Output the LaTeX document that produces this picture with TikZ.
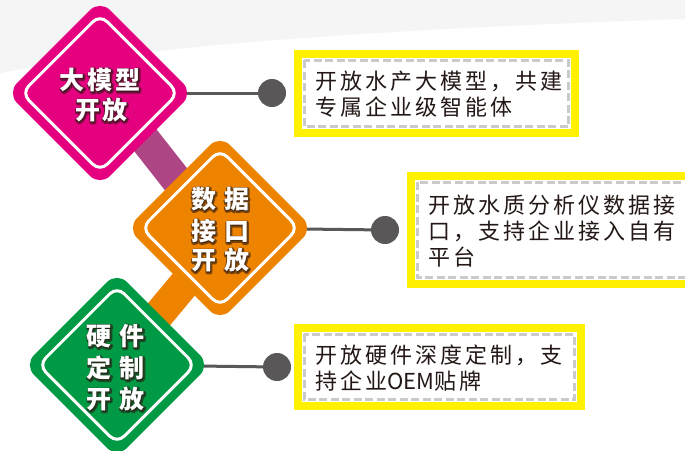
\documentclass[tikz,border=0pt]{standalone}
\usepackage{fontspec}
\setmainfont{Noto Sans CJK SC}
\newfontfamily\boxfont[LetterSpace=14]{Noto Sans CJK SC}
\newfontfamily\plainfont{Noto Sans CJK SC}
\newfontfamily\dfont[LetterSpace=12]{Noto Sans CJK SC}
\usetikzlibrary{shapes.geometric,backgrounds,calc}
\definecolor{mag}{HTML}{E4007F}
\definecolor{purp}{HTML}{AE4585}
\definecolor{org}{HTML}{EE8300}
\definecolor{grn}{HTML}{009944}
\definecolor{yel}{HTML}{FFF100}
\definecolor{dgray}{HTML}{595757}
\definecolor{dashgray}{HTML}{C9CACA}
\definecolor{txt}{HTML}{231815}
\definecolor{shade}{HTML}{2A1A12}
\definecolor{swoosh}{HTML}{F5F5F5}
\tikzset{
  diam/.style={shape=diamond, minimum width=186, minimum height=186, inner sep=0, rounded corners=14},
  idiam/.style={shape=diamond, minimum width=158, minimum height=158, inner sep=0, draw=white, line width=3, rounded corners=10},
  bar/.style={line width=31},
  conn/.style={draw=dgray, line width=3},
  dot/.style={circle, fill=dgray, minimum size=28, inner sep=0},
  dfnt/.style={inner sep=0, font=\dfont\bfseries\fontsize{25}{25}\selectfont},
  glow/.style={dfnt, text=shade, opacity=0.6},
  dtxt/.style={dfnt, text=white},
  ybox/.style={fill=yel, inner sep=0},
  dashbox/.style={draw=dashgray, line width=3, dash pattern=on 8 off 3.5},
  btxt/.style={text=txt, inner sep=0, align=left, anchor=west, font=\boxfont\fontsize{22}{26}\selectfont},
}
\newcommand\glowtxt[3]{%
  \node[glow] at ($(#2)+(0.6,0.8)$) {\special{pdf:literal direct 2 Tr 3.2 w 1 j}#3\special{pdf:literal direct 0 Tr}};
  \node[dtxt] (#1) at (#2) {#3};}
\newcommand\yellowbox[4]{%
  \node[ybox, minimum width=#3, minimum height=#4] (#1) at (#2) {};
  \fill[white] ([shift={(8,8)}]#1.north west) rectangle ([shift={(-8,-8)}]#1.south east);
  \draw[dashbox] ([shift={(10.5,10.5)}]#1.north west) rectangle ([shift={(-10.5,-10.5)}]#1.south east);}
\begin{document}
\begin{tikzpicture}[x=1pt,y=-1pt]
\useasboundingbox (0,0) rectangle (685,450);
% diamonds
\node[diam, fill=mag] (d1) at (100,93) {};
\node[idiam] (d1i) at (100,93) {};
\node[diam, fill=org] (d2) at (220,228) {};
\node[idiam] (d2i) at (220,228) {};
\node[diam, fill=grn] (d3) at (117,365) {};
\node[idiam] (d3i) at (117,365) {};
% dots
\node[dot] (p1) at (272,93) {};
\node[dot] (p2) at (385,230) {};
\node[dot] (p3) at (277,367) {};
% boxes
\yellowbox{b1}{436.5,93.5}{285}{87}
\yellowbox{b2}{553.5,230}{293}{116}
\yellowbox{b3}{439.5,367}{291}{86}
\node[btxt] (t1) at (315,94.5) {开放水产大模型，共建\\专属企业级智能体};
\node[btxt] (t2) at (428,231) {开放水质分析仪数据接\\口，支持企业接入自有\\平台};
\node[btxt] (t3) at (315,368) {开放硬件深度定制，支\\持企业{\plainfont OEM}贴牌};
% diamond texts
\glowtxt{l1a}{100,80}{大模型}
\glowtxt{l1b}{101,110}{开\hspace{2pt}放}
\glowtxt{l2a}{220,199}{数\hspace{8pt}据}
\glowtxt{l2b}{220,231}{接\hspace{8pt}口}
\glowtxt{l2c}{220,260}{开\hspace{8pt}放}
\glowtxt{l3a}{115.5,336}{硬\hspace{8pt}件}
\glowtxt{l3b}{115.5,368}{定\hspace{8pt}制}
\glowtxt{l3c}{115.5,399}{开\hspace{8pt}放}
\begin{pgfonlayer}{background}
\fill[white] (0,0) rectangle (685,450);
\fill[swoosh] (0,0) -- (0,73) .. controls (150,45) and (400,28) .. (685,19) -- (685,0) -- cycle;
\draw[bar, purp] ([shift={(9,1)}]d1.center) -- ([shift={(-12,-8)}]d2.center);
\draw[bar, org] ([shift={(-4,18)}]d2.center) -- ([shift={(3,-4)}]d3.center);
\draw[conn] (d1.center) -- (p1.center);
\draw[conn] (d2.center) -- (p2.center);
\draw[conn] (d3.center) -- (p3.center);
\end{pgfonlayer}
\end{tikzpicture}
\end{document}
